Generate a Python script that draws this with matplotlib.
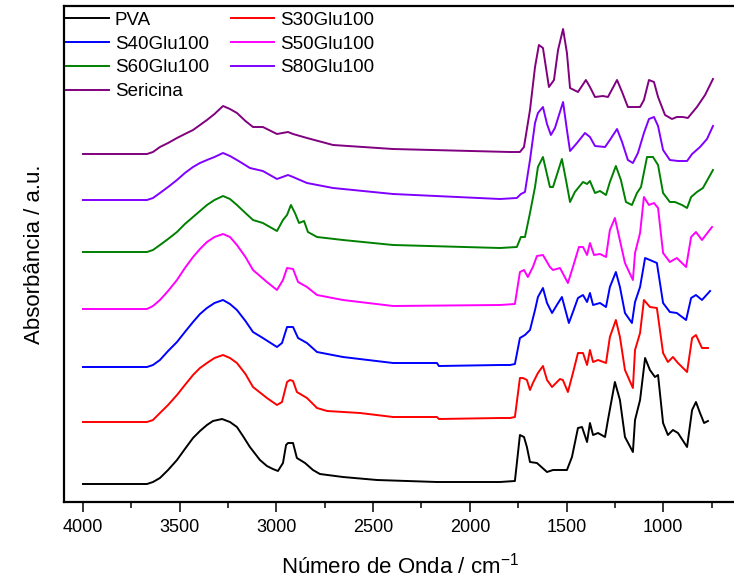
"""FTIR spectra of PVA / sericin blends, stacked with vertical offsets."""

import matplotlib

matplotlib.use("Agg")
import matplotlib.pyplot as plt
from matplotlib.ticker import MultipleLocator

plt.rcParams["font.family"] = ["Liberation Sans", "DejaVu Sans"]

# wavenumber (cm-1) / relative absorbance (a.u.)
pva_wn = [4000, 3669, 3638, 3602, 3560, 3514, 3473, 3431, 3395, 3359, 3328, 3281,
          3240, 3204, 3173, 3137, 3085, 3049, 3018, 2992,
          2966, 2950, 2940, 2914, 2894, 2852, 2811, 2775, 2656, 2480, 2170, 1844,
          1767, 1741, 1720, 1705, 1689, 1653, 1601, 1570, 1498, 1472, 1441, 1420,
          1394, 1379, 1363, 1337, 1301, 1286, 1250, 1224, 1198, 1157, 1146, 1120,
          1094, 1069, 1043, 1027, 1001, 976, 950, 924, 877, 851, 831, 810, 789, 769]
pva_a = [0, 0, 0.02, 0.06, 0.14, 0.24, 0.35, 0.46, 0.53, 0.59, 0.63, 0.65,
         0.62, 0.57, 0.48, 0.37, 0.24, 0.18, 0.15, 0.13,
         0.21, 0.39, 0.41, 0.41, 0.26, 0.21, 0.14, 0.10, 0.07, 0.04, 0.02, 0.02,
         0.03, 0.49, 0.47, 0.37, 0.22, 0.21, 0.12, 0.14, 0.14, 0.27, 0.56, 0.57,
         0.42, 0.61, 0.49, 0.51, 0.47, 0.64, 1.02, 0.84, 0.47, 0.32, 0.64, 0.84,
         1.26, 1.14, 1.07, 1.09, 0.61, 0.49, 0.54, 0.51, 0.37, 0.74, 0.82, 0.71, 0.61, 0.63]

s30_wn = [4000, 3669, 3638, 3602, 3560, 3514, 3473, 3431, 3395, 3359, 3320, 3276,
          3240, 3204, 3160, 3121, 3049, 2997, 2971,
          2945, 2930, 2914, 2894, 2842, 2790, 2738, 2568, 2397, 2170, 2160, 1844,
          1792, 1767, 1741, 1725, 1705, 1689, 1674, 1648, 1622, 1601, 1575, 1534,
          1519, 1493, 1467, 1441, 1415, 1394, 1379, 1363, 1337, 1296, 1276, 1245,
          1224, 1198, 1157, 1146, 1120, 1100, 1069, 1033, 1001, 976, 950, 924, 877,
          851, 831, 800, 769]
s30_a = [0, 0, 0.02, 0.09, 0.17, 0.27, 0.37, 0.47, 0.54, 0.59, 0.64, 0.67,
         0.64, 0.59, 0.48, 0.35, 0.24, 0.17, 0.20,
         0.40, 0.42, 0.41, 0.30, 0.24, 0.14, 0.11, 0.09, 0.05, 0.05, 0.03, 0.04,
         0.04, 0.05, 0.44, 0.44, 0.42, 0.32, 0.39, 0.49, 0.56, 0.42, 0.35, 0.43,
         0.42, 0.30, 0.49, 0.69, 0.69, 0.57, 0.72, 0.60, 0.62, 0.59, 0.85, 1.02,
         0.85, 0.52, 0.34, 0.72, 0.89, 1.22, 1.15, 1.14, 0.69, 0.60, 0.65, 0.59, 0.50,
         0.84, 0.87, 0.74, 0.74]

s40_wn = [4000, 3669, 3638, 3602, 3560, 3514, 3473, 3431, 3395, 3359, 3320, 3276,
          3240, 3204, 3160, 3121, 3070, 2997, 2971,
          2945, 2914, 2888, 2842, 2790, 2656, 2397, 2170, 2160, 1844, 1792, 1767,
          1741, 1715, 1689, 1663, 1648, 1622, 1601, 1575, 1550, 1524, 1488, 1467,
          1441, 1415, 1394, 1379, 1363, 1327, 1296, 1276, 1245, 1224, 1198, 1162,
          1146, 1120, 1094, 1069, 1033, 1001, 966, 930, 882, 856, 831, 800, 758]
s40_a = [0, 0, 0.02, 0.07, 0.16, 0.25, 0.35, 0.45, 0.53, 0.59, 0.64, 0.67,
         0.63, 0.57, 0.46, 0.35, 0.29, 0.20, 0.24,
         0.40, 0.40, 0.29, 0.24, 0.15, 0.10, 0.04, 0.04, 0.01, 0.02, 0.02, 0.03,
         0.29, 0.32, 0.37, 0.57, 0.70, 0.79, 0.64, 0.54, 0.62, 0.70, 0.44, 0.55,
         0.69, 0.72, 0.65, 0.74, 0.62, 0.64, 0.60, 0.80, 0.95, 0.80, 0.54, 0.44,
         0.65, 0.80, 1.09, 1.07, 1.04, 0.64, 0.55, 0.54, 0.47, 0.69, 0.72, 0.67, 0.76]

s50_wn = [4000, 3669, 3638, 3602, 3560, 3514, 3473, 3431, 3395, 3359, 3320, 3276,
          3240, 3204, 3160, 3121, 3049, 2997, 2966,
          2945, 2914, 2888, 2842, 2790, 2656, 2397, 1844, 1767, 1741, 1720, 1700,
          1674, 1653, 1622, 1586, 1570, 1534, 1493, 1467, 1436, 1415, 1394, 1379,
          1358, 1327, 1296, 1276, 1250, 1198, 1157, 1146, 1120, 1100, 1074, 1048,
          1027, 1001, 966, 930, 882, 856, 831, 800, 748]
s50_a = [0, 0, 0.03, 0.09, 0.18, 0.29, 0.41, 0.52, 0.60, 0.67, 0.72, 0.75,
         0.72, 0.64, 0.52, 0.39, 0.27, 0.19, 0.29,
         0.41, 0.40, 0.27, 0.22, 0.14, 0.09, 0.03, 0.04, 0.05, 0.37, 0.39, 0.32,
         0.42, 0.53, 0.54, 0.42, 0.39, 0.41, 0.26, 0.42, 0.62, 0.62, 0.54, 0.66,
         0.54, 0.55, 0.52, 0.79, 0.91, 0.46, 0.29, 0.56, 0.76, 1.12, 1.04, 1.06,
         1.01, 0.56, 0.47, 0.51, 0.42, 0.72, 0.77, 0.69, 0.82]

s60_wn = [4000, 3669, 3638, 3602, 3560, 3514, 3473, 3431, 3395, 3359, 3320, 3276,
          3240, 3204, 3160, 3121, 3070, 2997, 2966,
          2945, 2925, 2904, 2883, 2857, 2837, 2790, 2656, 2397, 1844, 1757, 1736,
          1715, 1689, 1663, 1648, 1622, 1586, 1570, 1524, 1503, 1482, 1457, 1415,
          1394, 1379, 1353, 1327, 1296, 1276, 1245, 1219, 1193, 1162, 1136, 1115,
          1084, 1053, 1027, 1001, 966, 940, 903, 877, 856, 826, 795, 743]
s60_a = [0, 0, 0.02, 0.07, 0.13, 0.20, 0.28, 0.35, 0.41, 0.47, 0.52, 0.56,
         0.53, 0.47, 0.39, 0.32, 0.29, 0.21, 0.32,
         0.37, 0.47, 0.39, 0.29, 0.31, 0.20, 0.15, 0.12, 0.07, 0.04, 0.05, 0.15,
         0.15, 0.39, 0.65, 0.85, 0.95, 0.65, 0.65, 0.93, 0.72, 0.50, 0.60, 0.70,
         0.68, 0.71, 0.59, 0.61, 0.57, 0.70, 0.86, 0.72, 0.50, 0.47, 0.59, 0.65,
         0.95, 0.95, 0.87, 0.59, 0.50, 0.50, 0.47, 0.44, 0.55, 0.60, 0.64, 0.82]

s80_wn = [4000, 3669, 3638, 3602, 3560, 3514, 3473, 3431, 3395, 3359, 3320, 3276,
          3240, 3204, 3170, 3137, 3070, 2997, 2940,
          2914, 2842, 2707, 2397, 1844, 1757, 1736, 1715, 1689, 1663, 1648, 1622,
          1601, 1581, 1560, 1518, 1498, 1482, 1446, 1405, 1379, 1353, 1301, 1276,
          1239, 1213, 1183, 1157, 1131, 1100, 1074, 1048, 1027, 1001, 966, 924, 877,
          851, 810, 774, 743]
s80_a = [0, 0, 0.02, 0.07, 0.13, 0.20, 0.27, 0.33, 0.37, 0.40, 0.43, 0.47,
         0.44, 0.40, 0.36, 0.32, 0.29, 0.21, 0.25,
         0.23, 0.17, 0.12, 0.06, 0.01, 0.02, 0.06, 0.08, 0.40, 0.77, 0.87, 0.93,
         0.76, 0.65, 0.72, 0.98, 0.70, 0.49, 0.57, 0.67, 0.63, 0.54, 0.53, 0.60,
         0.71, 0.58, 0.40, 0.37, 0.47, 0.67, 0.81, 0.83, 0.74, 0.50, 0.40, 0.39, 0.39,
         0.46, 0.53, 0.61, 0.74]

ser_wn = [4000, 3669, 3638, 3602, 3560, 3514, 3473, 3431, 3395, 3359, 3320, 3276,
          3240, 3204, 3160, 3121, 3070, 2997, 2940,
          2914, 2842, 2707, 2397, 1792, 1741, 1720, 1689, 1663, 1643, 1622, 1591,
          1565, 1544, 1518, 1498, 1482, 1441, 1400, 1379, 1353, 1312, 1286, 1239,
          1213, 1183, 1120, 1100, 1074, 1048, 1027, 991, 955, 930, 899, 873, 826,
          784, 743]
ser_a = [0, 0, 0.02, 0.07, 0.11, 0.16, 0.20, 0.24, 0.29, 0.34, 0.40, 0.48,
         0.45, 0.41, 0.33, 0.27, 0.27, 0.20, 0.22,
         0.20, 0.16, 0.09, 0.05, 0.02, 0.02, 0.07, 0.44, 0.87, 1.09, 1.06, 0.67,
         0.74, 1.04, 1.25, 1.01, 0.66, 0.62, 0.74, 0.67, 0.57, 0.58, 0.57, 0.74,
         0.62, 0.47, 0.47, 0.54, 0.74, 0.72, 0.57, 0.39, 0.35, 0.37, 0.37, 0.36, 0.47,
         0.59, 0.75]

labels = ["PVA", "S30Glu100", "S40Glu100", "S50Glu100", "S60Glu100", "S80Glu100", "Sericina"]
offsets = [0.18, 0.80, 1.35, 1.93, 2.50, 3.02, 3.48]
colors = ["black", "#ff0000", "#0000ff", "#ff00ff", "#008000", "#8000ff", "#800080"]

spectra = [(pva_wn, pva_a), (s30_wn, s30_a), (s40_wn, s40_a), (s50_wn, s50_a),
           (s60_wn, s60_a), (s80_wn, s80_a), (ser_wn, ser_a)]

fig = plt.figure(figsize=(7.34, 5.80), dpi=100)
ax = fig.add_axes([64 / 734, 78 / 580, 672 / 734, 496 / 580])

handles = {}
for (wn, a), off, c, lab in zip(spectra, offsets, colors, labels):
    (h,) = ax.plot(wn, [v + off for v in a], color=c, lw=1.4, label=lab)
    handles[lab] = h

ax.set_xlim(4098, 624)
ax.set_ylim(0, 4.96)
ax.xaxis.set_major_locator(MultipleLocator(500))
ax.xaxis.set_minor_locator(MultipleLocator(250))
ax.tick_params(axis="x", which="major", length=7, width=1.1, labelsize=13, pad=5)
ax.tick_params(axis="x", which="minor", length=4, width=1.1)
ax.set_yticks([])
for side in ("left", "top", "bottom"):
    ax.spines[side].set_linewidth(1.6)
ax.spines["right"].set_visible(False)

ax.set_xlabel("Número de Onda / cm$^{\\mathregular{-1}}$", fontsize=16, labelpad=12)
ax.set_ylabel("Absorbância / a.u.", fontsize=16, labelpad=14)

order = ["PVA", "S40Glu100", "S60Glu100", "Sericina", "S30Glu100", "S50Glu100", "S80Glu100"]
ax.legend([handles[k] for k in order], order, ncol=2, loc="upper left",
          bbox_to_anchor=(0, 1 - 4 / 496), borderaxespad=0, borderpad=0.1,
          frameon=False, fontsize=13.5, handlelength=2.3, handletextpad=0.3,
          columnspacing=1.2, labelspacing=0.35)

fig.savefig("out.png", dpi=100)
